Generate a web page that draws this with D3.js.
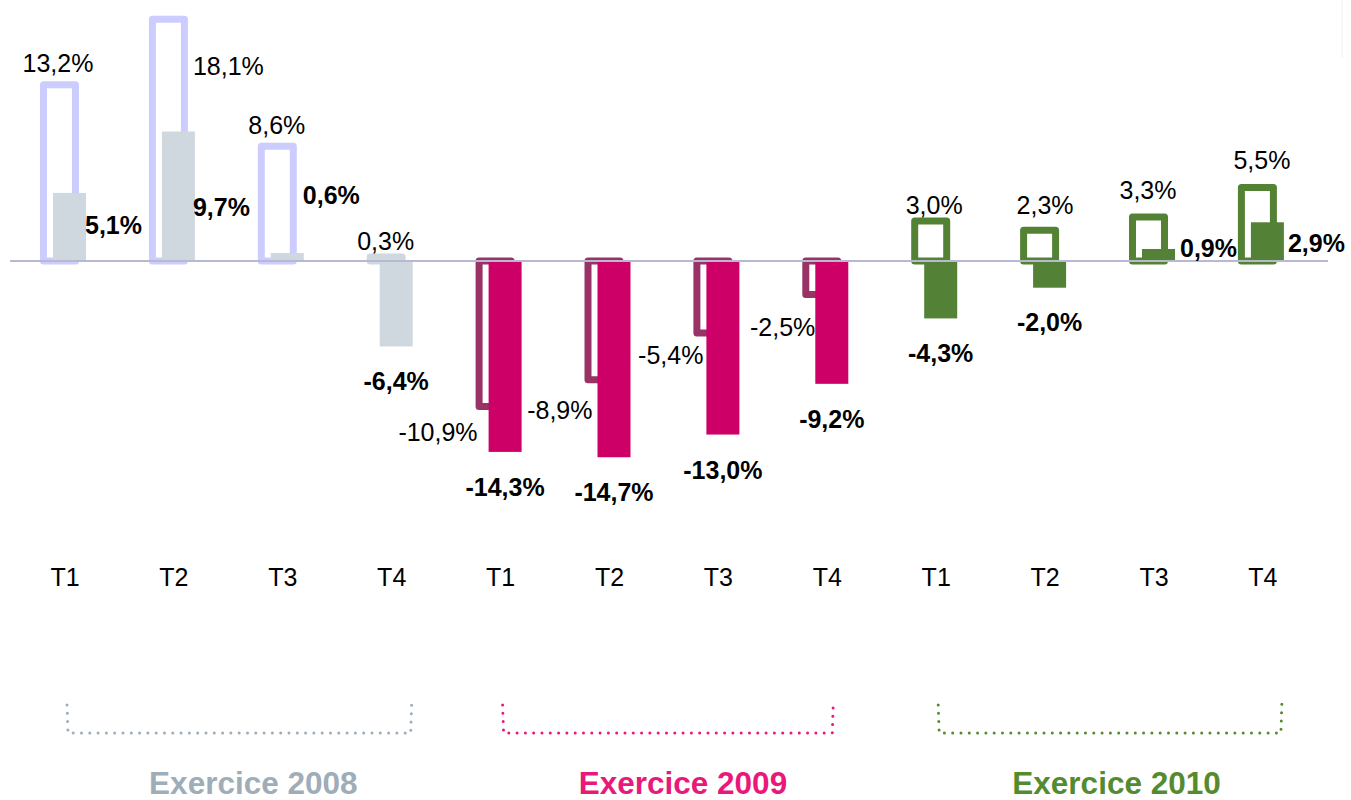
<!DOCTYPE html>
<html>
<head>
<meta charset="utf-8">
<script src="https://cdn.jsdelivr.net/npm/d3@7"></script>
<style>
  html, body { margin: 0; padding: 0; background: #fff; }
  svg { display: block; font-family: "Liberation Sans", Arial, sans-serif; }
</style>
</head>
<body>
<svg id="chart" width="1351" height="800"></svg>
<script>
// ---- data ----
const quarters = ["T1","T2","T3","T4","T1","T2","T3","T4","T1","T2","T3","T4"];
const years = ["2008","2008","2008","2008","2009","2009","2009","2009","2010","2010","2010","2010"];
const outlineValues = [13.2, 18.1, 8.6, 0.3, -10.9, -8.9, -5.4, -2.5, 3.0, 2.3, 3.3, 5.5];
const filledValues = [5.1, 9.7, 0.6, -6.4, -14.3, -14.7, -13.0, -9.2, -4.3, -2.0, 0.9, 2.9];
const exerciseLabels = ["Exercice 2008", "Exercice 2009", "Exercice 2010"];
const exerciseYears = ["2008", "2009", "2010"];

// ---- styles ----
const outlineColors = ["#CCCCFF","#CCCCFF","#CCCCFF","#D0D8DF","#993366","#993366","#993366","#993366","#548235","#548235","#548235","#548235"];
const filledColors = ["#D0D8DF","#D0D8DF","#D0D8DF","#D0D8DF","#CC0066","#CC0066","#CC0066","#CC0066","#538135","#538135","#538135","#538135"];
const yearColors = {"2008": "#9EADB8", "2009": "#E8197A", "2010": "#548B2F"};
const bracketRightNudge = [20, 6, 19];
const exerciseLabelNudge = [25, 19, 17];
// label nudges (relative to the scaled positions)
const outlineLabelNudge = [[-7,-22,"middle"],[19,47,"start"],[-6,-21,"middle"],[-6,-16,"middle"],
  [-23,25,"end"],[-17,30,"end"],[-15,22,"end"],[-12,33,"end"],
  [-2,-16,"middle"],[0,-25,"middle"],[-6,-27,"middle"],[-1,-28,"middle"]];
const filledLabelNudge = [[20,32,"start"],[19,75,"start"],[20,-58,"start"],[4.5,35,"middle"],
  [4.5,35,"middle"],[4.5,35,"middle"],[4.5,35,"middle"],[4.5,35,"middle"],
  [4.5,35,"middle"],[4.5,34,"middle"],[26,-1,"start"],[25,21,"start"]];

const fmt = v => d3.format(".1f")(v).replace(".", ",").replace("−","-") + "%";

const svg = d3.select("#chart");
const idx = d3.range(quarters.length);

const x = d3.scaleBand().domain(idx).range([10.55, 1317.35]).padding(0);
const cx = i => x(i) + x.bandwidth() / 2;
const y = d3.scaleLinear().domain([-15, 20]).range([261 + 15 * 13.35, 261 - 20 * 13.35]);

// outline bars
svg.append("g").selectAll("rect").data(idx).join("rect")
  .attr("x", i => cx(i) - 21.5)
  .attr("width", 32)
  .attr("y", i => Math.min(y(outlineValues[i]), y(0)))
  .attr("height", i => Math.abs(y(outlineValues[i]) - y(0)))
  .attr("fill", "none")
  .attr("stroke", i => outlineColors[i])
  .attr("stroke-width", 7)
  .attr("stroke-linejoin", "round");

// filled bars
svg.append("g").selectAll("rect").data(idx).join("rect")
  .attr("x", i => cx(i) - 12)
  .attr("width", 33)
  .attr("y", i => Math.min(y(filledValues[i]), y(0)))
  .attr("height", i => Math.abs(y(filledValues[i]) - y(0)))
  .attr("fill", i => filledColors[i]);

// baseline
svg.append("line")
  .attr("x1", 10).attr("x2", 1328)
  .attr("y1", y(0)).attr("y2", y(0))
  .attr("stroke", "#B8B8D0").attr("stroke-width", 2.2);

// outline value labels
svg.append("g").selectAll("text").data(idx).join("text")
  .attr("x", i => cx(i) + outlineLabelNudge[i][0])
  .attr("y", i => y(outlineValues[i]) + outlineLabelNudge[i][1] + 9)
  .attr("text-anchor", i => outlineLabelNudge[i][2])
  .attr("font-size", 25)
  .attr("fill", "#000")
  .text(i => fmt(outlineValues[i]));

// filled value labels
svg.append("g").selectAll("text").data(idx).join("text")
  .attr("x", i => cx(i) + filledLabelNudge[i][0])
  .attr("y", i => y(filledValues[i]) + filledLabelNudge[i][1] + 9)
  .attr("text-anchor", i => filledLabelNudge[i][2])
  .attr("font-size", 25)
  .attr("font-weight", "bold")
  .attr("fill", "#000")
  .text(i => fmt(filledValues[i]));

// quarter axis labels
const xAxis = d3.axisBottom(x).tickSize(0).tickPadding(0).tickFormat(i => quarters[i]);
const axG = svg.append("g").attr("transform", "translate(0,568)").call(xAxis);
axG.select(".domain").remove();
axG.selectAll("text").attr("font-size", 25).attr("fill", "#000")
  .attr("font-family", "Liberation Sans, Arial, sans-serif").attr("dy", "0.71em");

// year brackets + labels
exerciseYears.forEach((yr, k) => {
  const members = idx.filter(i => years[i] === yr);
  const first = members[0], last = members[members.length - 1];
  const x0 = cx(first) + 2, x1 = cx(last) + bracketRightNudge[k];
  const col = yearColors[yr];
  svg.append("path")
    .attr("d", `M${x0},705 L${x0 + 1},733 L${x1 - 1},733 L${x1},702`)
    .attr("fill", "none")
    .attr("stroke", col)
    .attr("stroke-width", 3)
    .attr("stroke-linecap", "round")
    .attr("stroke-dasharray", "0,8.3");
  svg.append("text")
    .attr("x", (cx(first) + cx(last)) / 2 + exerciseLabelNudge[k])
    .attr("y", 794)
    .attr("text-anchor", "middle")
    .attr("font-size", 31.5)
    .attr("font-weight", "bold")
    .attr("fill", col)
    .text(exerciseLabels[k]);
});

// faint frame artifact top-right
svg.append("line").attr("x1", 1342).attr("x2", 1342).attr("y1", 0).attr("y2", 58)
  .attr("stroke", "#f0f0f0").attr("stroke-width", 1);
</script>
</body>
</html>
